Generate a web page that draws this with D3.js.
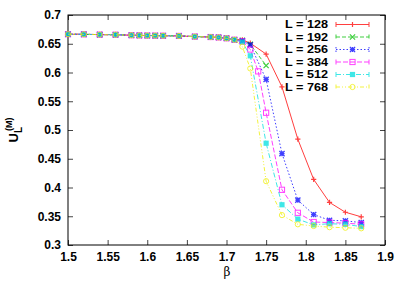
<!DOCTYPE html>
<html>
<head>
<meta charset="utf-8">
<script src="https://cdn.jsdelivr.net/npm/d3@7"></script>
<style>
  body { margin: 0; background: #fff; }
  text { font-family: "Liberation Sans", Arial, sans-serif; }
</style>
</head>
<body>
<div id="chart"></div>
<script>
// shared flat part of every curve
var betaFlat = [1.5, 1.52, 1.54, 1.56, 1.58, 1.59, 1.60, 1.61, 1.62, 1.64, 1.66, 1.68, 1.69, 1.70, 1.71];
var uFlat    = [0.6666, 0.6664, 0.6659, 0.6657, 0.6648, 0.6645, 0.6643, 0.6641, 0.6640, 0.6636, 0.6625, 0.6617, 0.6610, 0.6595, 0.6570];

// tails per lattice size
var beta128 = [1.72, 1.73, 1.75, 1.77, 1.79, 1.81, 1.83, 1.85, 1.87];
var u128    = [0.657, 0.651, 0.632, 0.575, 0.484, 0.414, 0.374, 0.357, 0.349];
var beta192 = [1.72, 1.73, 1.75];
var u192    = [0.656, 0.649, 0.612];
var beta256 = [1.72, 1.73, 1.75, 1.77, 1.79, 1.81, 1.83, 1.85, 1.87];
var u256    = [0.655, 0.648, 0.588, 0.459, 0.378, 0.353, 0.343, 0.342, 0.339];
var beta384 = [1.72, 1.73, 1.74, 1.75, 1.77, 1.79, 1.81, 1.83, 1.85, 1.87];
var u384    = [0.654, 0.640, 0.602, 0.530, 0.396, 0.356, 0.340, 0.339, 0.338, 0.336];
var beta512 = [1.72, 1.73, 1.75, 1.77, 1.79, 1.81, 1.83, 1.85, 1.87];
var u512    = [0.653, 0.629, 0.477, 0.370, 0.345, 0.335, 0.337, 0.336, 0.332];
var beta768 = [1.72, 1.73, 1.75, 1.77, 1.79, 1.81, 1.83, 1.85, 1.87];
var u768    = [0.645, 0.607, 0.411, 0.352, 0.336, 0.333, 0.331, 0.330, 0.329];

var labels = ["L = 128", "L = 192", "L = 256", "L = 384", "L = 512", "L = 768"];
var xTicks = [1.5, 1.55, 1.6, 1.65, 1.7, 1.75, 1.8, 1.85, 1.9];
var yTicks = [0.3, 0.35, 0.4, 0.45, 0.5, 0.55, 0.6, 0.65, 0.7];

var colors = ["#ff0000", "#00c000", "#0000ff", "#ff00ff", "#00e0e0", "#f0f000"];
var dashes = [null, "4,2", "1.5,2", "5,2", "5,2,1,2", "4,2,1,2,1,2"];
var markers = ["plus", "cross", "star", "osquare", "square", "ocircle"];

function build(bt, ut) {
  return betaFlat.concat(bt).map(function (b, i) {
    return { x: b, y: i < betaFlat.length ? uFlat[i] : ut[i - betaFlat.length] };
  });
}
var series = [
  build(beta128, u128), build(beta192, u192), build(beta256, u256),
  build(beta384, u384), build(beta512, u512), build(beta768, u768)
];

var W = 407, H = 285;
var margin = { top: 15, right: 22, bottom: 40, left: 68 };
var width = W - margin.left - margin.right,
    height = H - margin.top - margin.bottom;

var svg = d3.select("#chart").append("svg")
  .attr("width", W).attr("height", H);
var g = svg.append("g")
  .attr("transform", "translate(" + margin.left + "," + margin.top + ")");

var x = d3.scaleLinear().domain([1.5, 1.9]).range([0, width]);
var y = d3.scaleLinear().domain([0.3, 0.7]).range([height, 0]);

// axes, ticks pointing inward, mirrored
g.append("g").attr("transform", "translate(0," + height + ")")
  .call(d3.axisBottom(x).tickValues(xTicks).tickSizeInner(-5).tickSizeOuter(0).tickPadding(7)
    .tickFormat(d3.format("")));
g.append("g")
  .call(d3.axisLeft(y).tickValues(yTicks).tickSizeInner(-5).tickSizeOuter(0).tickPadding(7)
    .tickFormat(d3.format("")));
g.append("g")
  .call(d3.axisTop(x).tickValues(xTicks).tickSizeInner(-5).tickSizeOuter(0).tickFormat(""));
g.append("g").attr("transform", "translate(" + width + ",0)")
  .call(d3.axisRight(y).tickValues(yTicks).tickSizeInner(-5).tickSizeOuter(0).tickFormat(""));
g.selectAll(".domain").remove();
g.selectAll(".tick line").attr("stroke", "#444");
g.selectAll(".tick text").style("font-size", "12px").style("font-weight", "bold").attr("fill", "#000");
g.append("rect").attr("width", width).attr("height", height)
  .attr("fill", "none").attr("stroke", "#000").attr("stroke-width", 1);

function drawMarker(sel, type, color, cx, cy) {
  var s = 2.6;
  if (type === "plus") {
    sel.append("path").attr("d", "M" + (cx - s) + "," + cy + "H" + (cx + s) + "M" + cx + "," + (cy - s) + "V" + (cy + s))
      .attr("stroke", color).attr("stroke-width", 1.2);
  } else if (type === "cross") {
    sel.append("path").attr("d", "M" + (cx - s) + "," + (cy - s) + "L" + (cx + s) + "," + (cy + s) + "M" + (cx - s) + "," + (cy + s) + "L" + (cx + s) + "," + (cy - s))
      .attr("stroke", color).attr("stroke-width", 1.2);
  } else if (type === "star") {
    sel.append("path").attr("d", "M" + (cx - s) + "," + cy + "H" + (cx + s) + "M" + cx + "," + (cy - s) + "V" + (cy + s) +
      "M" + (cx - s) + "," + (cy - s) + "L" + (cx + s) + "," + (cy + s) + "M" + (cx - s) + "," + (cy + s) + "L" + (cx + s) + "," + (cy - s))
      .attr("stroke", color).attr("stroke-width", 1.3);
  } else if (type === "osquare") {
    sel.append("rect").attr("x", cx - s).attr("y", cy - s).attr("width", 2 * s).attr("height", 2 * s)
      .attr("fill", "none").attr("stroke", color).attr("stroke-width", 1);
  } else if (type === "square") {
    sel.append("rect").attr("x", cx - s).attr("y", cy - s).attr("width", 2 * s).attr("height", 2 * s)
      .attr("fill", color);
  } else {
    sel.append("circle").attr("cx", cx).attr("cy", cy).attr("r", s)
      .attr("fill", "none").attr("stroke", color).attr("stroke-width", 1);
  }
}

var line = d3.line().x(function (d) { return x(d.x); }).y(function (d) { return y(d.y); });

series.forEach(function (data, i) {
  var sg = g.append("g").attr("opacity", 0.75);
  sg.append("path").datum(data).attr("d", line)
    .attr("fill", "none").attr("stroke", colors[i]).attr("stroke-width", 1)
    .attr("stroke-dasharray", dashes[i]);
  data.forEach(function (d) { drawMarker(sg, markers[i], colors[i], x(d.x), y(d.y)); });
});

// legend
var leg = svg.append("g");
labels.forEach(function (lab, i) {
  var ly = 24.5 + i * 12.5;
  leg.append("text").attr("x", 328).attr("y", ly).attr("dy", "0.36em")
    .attr("text-anchor", "end").style("font-size", "11px").style("font-weight", "bold")
    .attr("textLength", 43).attr("lengthAdjust", "spacingAndGlyphs").text(lab);
  var lg = leg.append("g").attr("opacity", 0.75);
  lg.append("path").attr("d", "M336," + ly + "H369M336," + (ly - 2.5) + "V" + (ly + 2.5) + "M369," + (ly - 2.5) + "V" + (ly + 2.5))
    .attr("stroke", colors[i]).attr("fill", "none").attr("stroke-dasharray", dashes[i]);
  drawMarker(lg, markers[i], colors[i], 352.5, ly);
});

// axis labels
svg.append("text").attr("x", 227).attr("y", 276)
  .attr("text-anchor", "middle").style("font-family", "DejaVu Serif, serif").style("font-size", "12px").text("β");
var yl = svg.append("text").attr("transform", "translate(18,130) rotate(-90)")
  .attr("text-anchor", "middle").style("font-size", "13px").style("font-weight", "bold");
yl.append("tspan").text("U");
yl.append("tspan").attr("dy", 4).style("font-size", "10px").text("L");
yl.append("tspan").attr("dy", -10).attr("dx", -4).style("font-size", "9px").text("(M)");
</script>
</body>
</html>
